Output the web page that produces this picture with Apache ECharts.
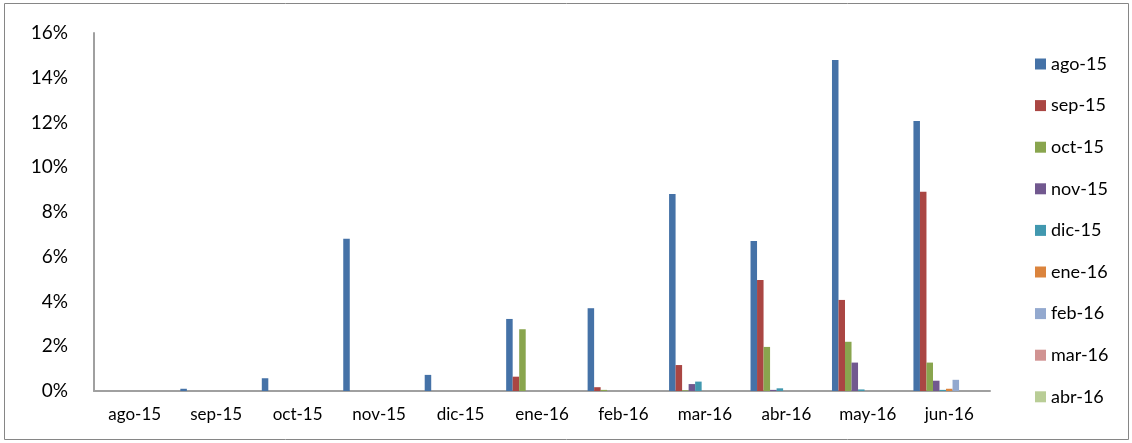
<!DOCTYPE html>
<html>
<head>
<meta charset="utf-8">
<script src="https://cdn.jsdelivr.net/npm/echarts@6/dist/echarts.min.js"></script>
<style>
html,body{margin:0;padding:0;background:#fff;}
#c{width:1132px;height:443px;}
</style>
</head>
<body>
<div id="c"></div>
<script>
const categories = ['ago-15','sep-15','oct-15','nov-15','dic-15','ene-16','feb-16','mar-16','abr-16','may-16','jun-16'];
const seriesNames = ['ago-15','sep-15','oct-15','nov-15','dic-15','ene-16','feb-16','mar-16','abr-16','may-16','jun-16'];
const legendNames = ['ago-15','sep-15','oct-15','nov-15','dic-15','ene-16','feb-16','mar-16','abr-16'];
const s_ago15 = [0, 0.1, 0.57, 6.8, 0.72, 3.22, 3.70, 8.8, 6.70, 14.79, 12.07];
const s_sep15 = [0, 0, 0, 0, 0, 0.64, 0.17, 1.16, 4.96, 4.07, 8.91];
const s_oct15 = [0, 0, 0, 0, 0, 2.76, 0.05, 0.03, 1.97, 2.2, 1.27];
const s_nov15 = [0, 0, 0, 0, 0, 0, 0, 0.31, 0.05, 1.27, 0.46];
const s_dic15 = [0, 0, 0, 0, 0, 0, 0, 0.42, 0.12, 0.07, 0.05];
const s_ene16 = [0, 0, 0, 0, 0, 0, 0, 0, 0, 0, 0.1];
const s_feb16 = [0, 0, 0, 0, 0, 0, 0, 0, 0, 0, 0.5];
const s_mar16 = [0, 0, 0, 0, 0, 0, 0, 0, 0, 0, 0];
const s_abr16 = [0, 0, 0, 0, 0, 0, 0, 0, 0, 0, 0];
const s_may16 = [0, 0, 0, 0, 0, 0, 0, 0, 0, 0, 0];
const s_jun16 = [0, 0, 0, 0, 0, 0, 0, 0, 0, 0, 0];
const seriesValues = [s_ago15, s_sep15, s_oct15, s_nov15, s_dic15, s_ene16, s_feb16, s_mar16, s_abr16, s_may16, s_jun16];
const colors = ['#4572A7','#AA4643','#89A54E','#71588F','#4198AF','#DB843D','#93A9CF','#D19392','#B9CD96','#A99BBD','#92C3D4'];
const yTicks = {min: 0, max: 16, interval: 2};

const FONT = 'Lato';
const chart = echarts.init(document.getElementById('c'), null, {renderer: 'canvas'});
chart.setOption({
  animation: false,
  color: colors,
  graphic: [{
    type: 'rect',
    shape: {x: 4.5, y: 3.5, width: 1124, height: 436},
    style: {fill: 'none', stroke: '#868686', lineWidth: 1}
  }],
  grid: {left: 94, right: 142, top: 33, bottom: 52},
  legend: {
    data: legendNames,
    orient: 'vertical',
    left: 1030,
    top: 49,
    itemWidth: 11,
    itemHeight: 11,
    itemGap: 21.6,
    icon: 'rect',
    textStyle: {fontFamily: FONT, fontSize: 18, lineHeight: 20, color: '#000', padding: [0,0,0,0]}
  },
  xAxis: {
    type: 'category',
    data: categories,
    axisLine: {lineStyle: {color: '#A0A0A0', width: 2}},
    axisTick: {show: false},
    axisLabel: {fontFamily: FONT, fontSize: 17, color: '#000', margin: 15}
  },
  yAxis: {
    type: 'value',
    min: yTicks.min, max: yTicks.max, interval: yTicks.interval,
    axisLine: {show: true, lineStyle: {color: '#A0A0A0', width: 2}},
    axisTick: {show: false},
    splitLine: {show: false},
    axisLabel: {fontFamily: FONT, fontSize: 19, color: '#000', margin: 26, formatter: '{value}%'}
  },
  series: seriesNames.map((n, i) => ({
    name: n,
    type: 'bar',
    data: seriesValues[i],
    barGap: '0%',
    barCategoryGap: '12%',
    itemStyle: {color: colors[i]}
  }))
});
</script>
</body>
</html>
